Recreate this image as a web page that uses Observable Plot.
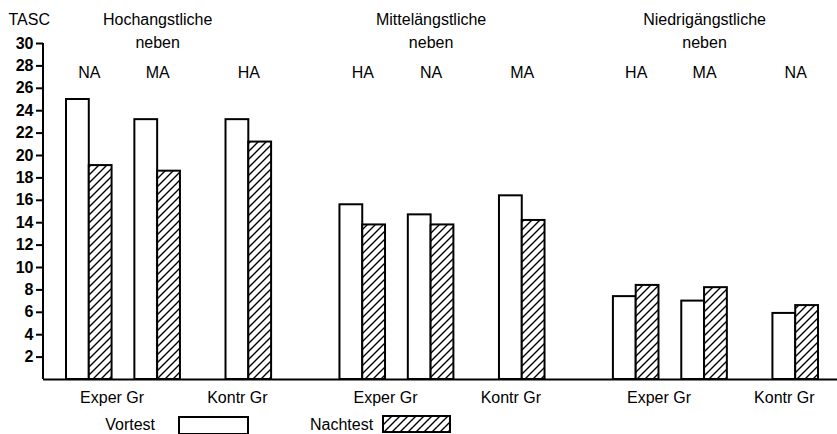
<!DOCTYPE html>
<html>
<head>
<meta charset="utf-8">
<script src="https://cdn.jsdelivr.net/npm/d3@7"></script>
<script src="https://cdn.jsdelivr.net/npm/@observablehq/plot@0.6"></script>
<style>
  body { margin: 0; background: #fff; }
  #chart { width: 837px; font-family: "Liberation Sans", Arial, sans-serif; }
  #chart svg { display: block; }
</style>
</head>
<body>
<div id="chart"></div>
<script>
// ---- data ----
const groupTitles = ["Hochangstliche", "Mittelängstliche", "Niedrigängstliche"];
const groupSubtitle = "neben";
const subgroups = [["NA", "MA", "HA"], ["HA", "NA", "MA"], ["HA", "MA", "NA"]];
const teamLabels = ["Exper Gr", "Kontr Gr"];
const tests = ["Vortest", "Nachtest"];
const vortest = [25.0, 23.2, 23.2, 15.6, 14.7, 16.4, 7.4, 7.0, 5.9];
const nachtest = [19.1, 18.6, 21.2, 13.8, 13.8, 14.2, 8.4, 8.2, 6.6];
const yTicks = [2, 4, 6, 8, 10, 12, 14, 16, 18, 20, 22, 24, 26, 28, 30];
const yLabel = "TASC";

// ---- layout: slots along x (each bar = one slot, gaps = empty slots) ----
const pairs = [];
let slot = 0, k = 0;
subgroups.forEach((subs, g) => {
  subs.forEach((s, i) => {
    if (i === 1) slot += 1;      // gap between the two Exper pairs
    if (i === 2) slot += 2;      // gap before the Kontr pair
    pairs.push({g, i, label: s, start: slot, v: vortest[k], n: nachtest[k]});
    slot += 2; k++;
  });
  if (g < subgroups.length - 1) slot += 3; // gap between groups
});
const nSlots = slot;

const bars = pairs.flatMap(p => [
  {x1: p.start, x2: p.start + 1, value: p.v, test: tests[0]},
  {x1: p.start + 1, x2: p.start + 2, value: p.n, test: tests[1]}
]);
const subLabels = pairs.map(p => ({x: p.start + 1, label: p.label}));
const titleRows = pairs.filter(p => p.i === 1).map(p => ({x: p.start + 1, title: groupTitles[p.g]}));
const teamRows = pairs.flatMap(p =>
  p.i === 0 ? [{x: p.start + 2, label: teamLabels[0]}]
  : p.i === 2 ? [{x: p.start + 0.5, label: teamLabels[1]}] : []);

const font = "'Liberation Sans', Arial, sans-serif";

const plot = Plot.plot({
  width: 837,
  height: 408,
  marginLeft: 43,
  marginRight: 0,
  marginTop: 43,
  marginBottom: 29,
  x: {type: "linear", domain: [0, nSlots], range: [66, 818], axis: null},
  y: {domain: [0, 30], axis: null},
  style: {fontFamily: font, fontSize: "16px", color: "black", background: "white", overflow: "visible"},
  marks: [
    Plot.rectY(bars, {
      x1: "x1", x2: "x2", y: "value",
      fill: d => d.test === tests[0] ? "white" : "url(#hatch)",
      stroke: "black", strokeWidth: 2
    }),
    Plot.ruleY([0], {stroke: "black", strokeWidth: 2}),
    Plot.axisY(yTicks, {tickSize: 7, tickPadding: 3, strokeWidth: 2, fontSize: 16, fontWeight: "bold", label: null}),
    Plot.text([yLabel], {frameAnchor: "top-left", textAnchor: "start", lineAnchor: "bottom", dx: -35, dy: -19, fontSize: 16}),
    Plot.text(titleRows, {x: "x", text: "title", frameAnchor: "top", lineAnchor: "bottom", dy: -19, fontSize: 16}),
    Plot.text(titleRows, {x: "x", text: () => groupSubtitle, frameAnchor: "top", lineAnchor: "bottom", dy: 4, fontSize: 16}),
    Plot.text(subLabels, {x: "x", text: "label", frameAnchor: "top", lineAnchor: "bottom", dy: 34, fontSize: 16}),
    Plot.text(teamRows, {x: "x", text: "label", frameAnchor: "bottom", lineAnchor: "bottom", dy: 23, fontSize: 16})
  ]
});

const svg = d3.select(plot);
const defs = svg.insert("defs", ":first-child");
function addHatch(defs, id) {
  const p = defs.append("pattern").attr("id", id).attr("patternUnits", "userSpaceOnUse")
    .attr("width", 8).attr("height", 8);
  p.append("rect").attr("width", 8).attr("height", 8).attr("fill", "white");
  p.append("path").attr("d", "M0,8 L8,0 M-2,2 L2,-2 M6,10 L10,6")
    .attr("stroke", "black").attr("stroke-width", 1.4);
}
addHatch(defs, "hatch");

// y axis line from 0 to 30
const ys = plot.scale("y");
svg.append("line")
  .attr("x1", 43).attr("x2", 43)
  .attr("y1", ys.apply(30)).attr("y2", ys.apply(0))
  .attr("stroke", "black").attr("stroke-width", 2);

document.getElementById("chart").appendChild(plot);

// legend below the chart
const leg = d3.select("#chart").append("svg")
  .attr("width", 837).attr("height", 26)
  .style("font-family", font).style("font-size", "16px");
addHatch(leg.append("defs"), "hatchLeg");
leg.append("text").attr("x", 155).attr("y", 22).attr("text-anchor", "end").text(tests[0]);
leg.append("rect").attr("x", 179).attr("y", 9).attr("width", 69).attr("height", 17)
  .attr("fill", "white").attr("stroke", "black").attr("stroke-width", 2);
leg.append("text").attr("x", 310).attr("y", 22).attr("text-anchor", "start").text(tests[1]);
leg.append("rect").attr("x", 383).attr("y", 8).attr("width", 67).attr("height", 16)
  .attr("fill", "url(#hatchLeg)").attr("stroke", "black").attr("stroke-width", 2);
</script>
</body>
</html>
